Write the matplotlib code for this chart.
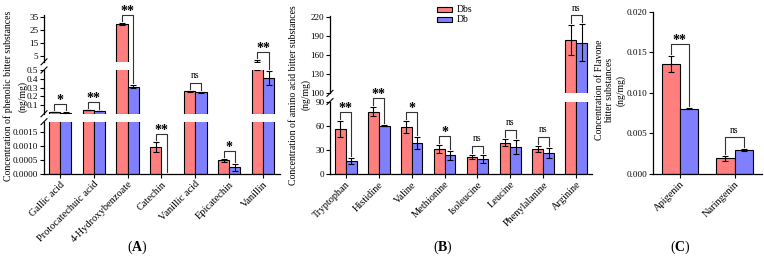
import matplotlib
matplotlib.use("Agg")
import matplotlib.pyplot as plt
import numpy as np

plt.rcParams['font.family'] = ['Liberation Serif', 'DejaVu Serif']
plt.rcParams['mathtext.fontset'] = 'custom'
plt.rcParams['mathtext.rm'] = 'Liberation Serif'
plt.rcParams['mathtext.bf'] = 'Liberation Serif:bold'

# ---------------- data ----------------
A_cats = ['Gallic acid', 'Protocatechuic acid', '4-Hydroxybenzoate', 'Catechin',
          'Vanillic acid', 'Epicatechin', 'Vanillin']
A_dbs = [0.020, 0.043, 29.5, 0.00095, 0.256, 0.00049, 0.55]
A_dbs_err_hi = [0.001, 0.003, 0.8, 0.00018, 0.005, 0.00005, 1.2]
A_dbs_err_lo = [0.001, 0.003, 0.8, 0.00018, 0.005, 0.00005, 0.05]
A_db = [0.014, 0.028, 0.31, 0.0, 0.244, 0.00024, 0.407]
A_db_err = [0.001, 0.002, 0.015, 0.0, 0.004, 0.00012, 0.08]
A_sig = ['*', '**', '**', '**', 'ns', '*', '**']

B_cats = ['Tryptophan', 'Histidine', 'Valine', 'Methionine', 'Isoleucine',
          'Leucine', 'Phenylalanine', 'Arginine']
B_dbs = [57, 78.5, 59, 31.6, 22, 39.7, 31.6, 184]
B_dbs_err = [10, 6, 7.5, 5, 2.5, 4.5, 4, 24]
B_db = [17, 61, 39, 24, 19, 33.8, 26.6, 180]
B_db_err = [3.5, 0.7, 7.5, 5.5, 5, 8.5, 6.5, 29]
B_sig = ['**', '**', '*', '*', 'ns', 'ns', 'ns', 'ns']

C_cats = ['Apigenin', 'Naringenin']
C_dbs = [0.01355, 0.00195]
C_dbs_err = [0.0010, 0.0003]
C_db = [0.00805, 0.00296]
C_db_err = [0.00005, 0.0001]
C_sig = ['**', 'ns']

series_names = ['Dbs', 'Db']
RED = '#FF7F7F'
BLUE = '#7F7FFF'

W, H = 764, 259
fig = plt.figure(figsize=(W / 100, H / 100), dpi=100)


def add_ax(x0, x1, ytop, ybot):
    return fig.add_axes([x0 / W, 1 - ybot / H, (x1 - x0) / W, (ybot - ytop) / H])


def style_ax(ax, bottom):
    for s in ['top', 'right']:
        ax.spines[s].set_visible(False)
    ax.spines['left'].set_linewidth(0.9)
    ax.tick_params(axis='y', length=3, width=0.8, labelsize=6.6, pad=1)
    if bottom:
        ax.spines['bottom'].set_linewidth(0.9)
        ax.tick_params(axis='x', length=3, width=0.8, labelsize=7.5, pad=1)
    else:
        ax.spines['bottom'].set_visible(False)
        ax.tick_params(axis='x', bottom=False, labelbottom=False)
    ax.patch.set_alpha(0)


BW = 0.33
ekw = dict(ecolor='black', elinewidth=0.8, capsize=2.5, capthick=0.8)


def draw_bars(ax, thr, v1, e1lo, e1hi, v2, e2):
    x = np.arange(len(v1))
    for i in range(len(v1)):
        if v1[i] > thr:
            ax.bar(x[i] - BW / 2, v1[i], BW, color=RED, edgecolor='black', linewidth=0.8,
                   yerr=[[e1lo[i]], [e1hi[i]]], error_kw=ekw, zorder=2)
        if v2[i] > thr:
            ax.bar(x[i] + BW / 2, v2[i], BW, color=BLUE, edgecolor='black', linewidth=0.8,
                   yerr=[[e2[i]], [e2[i]]], error_kw=ekw, zorder=2)


# overlay in pixel coordinates
ov = fig.add_axes([0, 0, 1, 1])
ov.set_xlim(0, W)
ov.set_ylim(H, 0)
ov.axis('off')
ov.set_zorder(10)


def to_px(ax, x, y):
    d = ax.transData.transform((x, y))
    return d[0], H - d[1]


def seg_for(segs, v):
    for ax, lo, hi in segs:
        if v <= hi:
            return ax
    return segs[-1][0]


def brackets(segs, v1, e1, v2, e2, sig, off):
    for i in range(len(v1)):
        t1 = v1[i] + e1[i]
        t2 = v2[i] + e2[i]
        a1 = seg_for(segs, t1)
        a2 = seg_for(segs, t2)
        x1, y1 = to_px(a1, i - BW / 2, t1)
        x2, y2 = to_px(a2, i + BW / 2, t2)
        yb = min(y1, y2) - off
        ov.plot([x1, x1, x2, x2], [y1 - 2, yb, yb, y2 - 2], color='#333333', lw=0.8)
        if sig[i] == 'ns':
            ov.text((x1 + x2) / 2, yb - 2.5, 'ns', ha='center', va='bottom', fontsize=7)
        else:
            ov.text((x1 + x2) / 2, yb + 3, sig[i], ha='center', va='bottom', fontsize=10,
                    fontweight='bold')


def break_marks(ax, yval):
    x, y = to_px(ax, ax.get_xlim()[0], yval)
    ov.plot([x - 3, x + 3], [y + 3, y - 3], color='black', lw=0.8)


def cat_labels(ax, cats):
    ax.set_xticks(np.arange(len(cats)))
    ax.set_xticklabels(cats, rotation=45, ha='right', va='top', rotation_mode='anchor')


def ylabel_lines(lines, xs, yc):
    for s, x in zip(lines, xs):
        ov.text(x, yc, s, rotation=90, ha='center', va='center', fontsize=7)


# ---------------- panel A ----------------
# (lo, hi, draw threshold, ytop px, ybottom px)
A_segs_def = [(0, 0.00187, 0, 121.7, 174.0), (0, 0.5, 0.00187, 70.0, 113.75),
              (0.5, 36.5, 0.5, 15.05, 61.85)]
A_segs = []
for k, (lo, hi, thr, yt, yb) in enumerate(A_segs_def):
    ax = add_ax(44, 280, yt, yb)
    draw_bars(ax, thr, A_dbs, A_dbs_err_lo, A_dbs_err_hi, A_db, A_db_err)
    ax.set_ylim(lo, hi)
    ax.set_xlim(-0.47, len(A_cats) - 0.5)
    style_ax(ax, k == 0)
    A_segs.append((ax, lo, hi))
A_segs[0][0].set_yticks([0, 0.0005, 0.0010, 0.0015])
A_segs[0][0].set_yticklabels(['0.0000', '0.0005', '0.0010', '0.0015'])
A_segs[1][0].set_yticks([0.1, 0.2, 0.3, 0.4, 0.5])
A_segs[1][0].set_yticklabels(['0.1', '0.2', '0.3', '0.4', '0.5'])
A_segs[2][0].set_yticks([5, 15, 25, 35])
A_segs[2][0].set_yticklabels(['5', '15', '25', '35'])
cat_labels(A_segs[0][0], A_cats)
break_marks(A_segs[0][0], 0.00187)
break_marks(A_segs[1][0], 0.0)
break_marks(A_segs[1][0], 0.5)
break_marks(A_segs[2][0], 0.5)
brackets(A_segs, A_dbs, A_dbs_err_hi, A_db, A_db_err, A_sig, 8)
ylabel_lines(['Concentration of phenolic bitter substances', '(ng/mg)'], [8, 23], 96)
ov.text(137, 247, r'($\mathbf{A}$)', ha='center', va='center', fontsize=10)

# ---------------- panel B ----------------
B_segs_def = [(0, 91, 0, 101.5, 174.3), (100, 222, 100, 16.0, 93.3)]
B_segs = []
for k, (lo, hi, thr, yt, yb) in enumerate(B_segs_def):
    ax = add_ax(330, 592, yt, yb)
    draw_bars(ax, thr, B_dbs, B_dbs_err, B_dbs_err, B_db, B_db_err)
    ax.set_ylim(lo, hi)
    ax.set_xlim(-0.48, len(B_cats) - 0.52)
    style_ax(ax, k == 0)
    B_segs.append((ax, lo, hi))
B_segs[0][0].set_yticks([0, 30, 60, 90])
B_segs[1][0].set_yticks([100, 130, 160, 190, 220])
cat_labels(B_segs[0][0], B_cats)
break_marks(B_segs[0][0], 91)
break_marks(B_segs[1][0], 100)
brackets(B_segs, B_dbs, B_dbs_err, B_db, B_db_err, B_sig, 9)
ylabel_lines(['Concentration of amino acid bitter substances', '(ng/mg)'], [293, 306], 95)
ov.text(443, 247, r'($\mathbf{B}$)', ha='center', va='center', fontsize=10)

# legend
for j, (nm, col) in enumerate(zip(series_names, [RED, BLUE])):
    yy = 9 + j * 10
    ov.add_patch(plt.Rectangle((437, yy - 2.5), 15, 5, facecolor=col, edgecolor='black', lw=0.8))
    ov.text(457, yy, nm, ha='left', va='center', fontsize=7)

# ---------------- panel C ----------------
axC = add_ax(653, 762, 11.7, 174.0)
draw_bars(axC, 0, C_dbs, C_dbs_err, C_dbs_err, C_db, C_db_err)
axC.set_ylim(0, 0.020)
axC.set_xlim(-0.485, len(C_cats) - 0.5)
style_ax(axC, True)
axC.set_yticks([0, 0.005, 0.010, 0.015, 0.020])
axC.set_yticklabels(['0.000', '0.005', '0.010', '0.015', '0.020'])
cat_labels(axC, C_cats)
brackets([(axC, 0, 0.020)], C_dbs, C_dbs_err, C_db, C_db_err, C_sig, 12)
ylabel_lines(['Concentration of Flavone', 'bitter substances', '(ng/mg)'], [599, 610, 621], 90)
ov.text(680, 247, r'($\mathbf{C}$)', ha='center', va='center', fontsize=10)

fig.savefig('out.png', dpi=100)
